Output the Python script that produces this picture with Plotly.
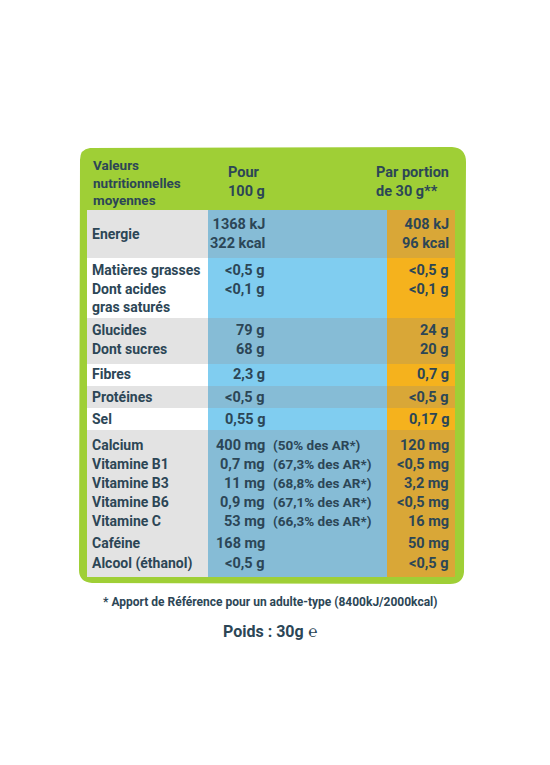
import plotly.graph_objects as go

# ---- data ----
labels = ["Energie", "Matières grasses", "Dont acides\ngras saturés", "Glucides", "Dont sucres",
          "Fibres", "Protéines", "Sel", "Calcium", "Vitamine B1", "Vitamine B3", "Vitamine B6",
          "Vitamine C", "Caféine", "Alcool (éthanol)"]
per100 = ["1368 kJ\n322 kcal", "<0,5 g", "<0,1 g", "79 g", "68 g", "2,3 g", "<0,5 g", "0,55 g",
          "400 mg", "0,7 mg", "11 mg", "0,9 mg", "53 mg", "168 mg", "<0,5 g"]
ar_pct = ["", "", "", "", "", "", "", "", "(50% des AR*)", "(67,3% des AR*)", "(68,8% des AR*)",
          "(67,1% des AR*)", "(66,3% des AR*)", "", ""]
portion = ["408 kJ\n96 kcal", "<0,5 g", "<0,1 g", "24 g", "20 g", "0,7 g", "<0,5 g", "0,17 g",
           "120 mg", "<0,5 mg", "3,2 mg", "<0,5 mg", "16 mg", "50 mg", "<0,5 g"]
header = ["Valeurs\nnutritionnelles\nmoyennes", "Pour\n100 g", "Par portion\nde 30 g**"]
footnote = "* Apport de Référence pour un adulte-type (8400kJ/2000kcal)"
weight = "Poids : 30g ℮"

# ---- layout constants ----
label_y = [234, 270, 298, 330, 349, 374, 397, 419, 445, 464, 483, 502, 521, 543, 563]
val_y = [234, 270, 289, 330, 349, 374, 397, 419, 445, 464, 483, 502, 521, 543, 563]
bands = [(210, 258, True), (258, 318, False), (318, 364, True), (364, 386, False),
         (386, 408, True), (408, 430, False), (430, 577, True)]
X0, XL, XB, XO, X1 = 87, 208, 387, 387, 455

TXT = "#2c4656"
FONT = "Roboto, Liberation Sans, sans-serif"

fig = go.Figure()
shapes = []
shapes.append(dict(type="path",
    path="M 90 148 L 452 147 Q 466 148 466 162 L 464 572 Q 463 584 450 584 L 92 583 Q 79 582 79 570 L 80 160 Q 80 149 90 148 Z",
    fillcolor="#9fcf36", line=dict(width=0), layer="below"))
for y0, y1, dark in bands:
    shapes.append(dict(type="rect", x0=X0, x1=XL, y0=y0, y1=y1, line=dict(width=0),
                       fillcolor="#e3e3e3" if dark else "#ffffff", layer="below"))
    shapes.append(dict(type="rect", x0=XL, x1=XB, y0=y0, y1=y1, line=dict(width=0),
                       fillcolor="#86bcd6" if dark else "#80cdf0", layer="below"))
    shapes.append(dict(type="rect", x0=XO, x1=X1, y0=y0, y1=y1, line=dict(width=0),
                       fillcolor="#d9a737" if dark else "#f5b21d", layer="below"))

ann = []
def add(x, y, t, anchor, size=14.5, yanchor="middle"):
    ann.append(dict(x=x, y=y, xref="x", yref="y", text=t.replace("\n", "<br>"), showarrow=False,
                    xanchor=anchor, yanchor=yanchor, align=anchor,
                    font=dict(family=FONT, size=size, color=TXT, weight="bold")))

for i in range(len(labels)):
    add(90, label_y[i], labels[i], "left", 14 if i != 2 else 14)
    add(267, val_y[i], per100[i], "right")
    if ar_pct[i]:
        add(271, val_y[i], ar_pct[i], "left", 13.5)
    add(451, val_y[i], portion[i], "right")

add(91, 182, header[0], "left", 13.5)
add(226, 182, header[1], "left", 14.5)
add(374, 182, header[2], "left", 14.5)
add(270, 602, footnote, "center", 12)
add(270, 631, weight, "center", 16)

# compensate for the page's default 8px body margin
fig.update_layout(width=550, height=765, margin=dict(l=0, r=0, t=0, b=0),
                  paper_bgcolor="white", plot_bgcolor="white", shapes=shapes, annotations=ann,
                  xaxis=dict(range=[8, 558], visible=False, fixedrange=True),
                  yaxis=dict(range=[773, 8], visible=False, fixedrange=True),
                  showlegend=False)
fig.write_html("out.html")
